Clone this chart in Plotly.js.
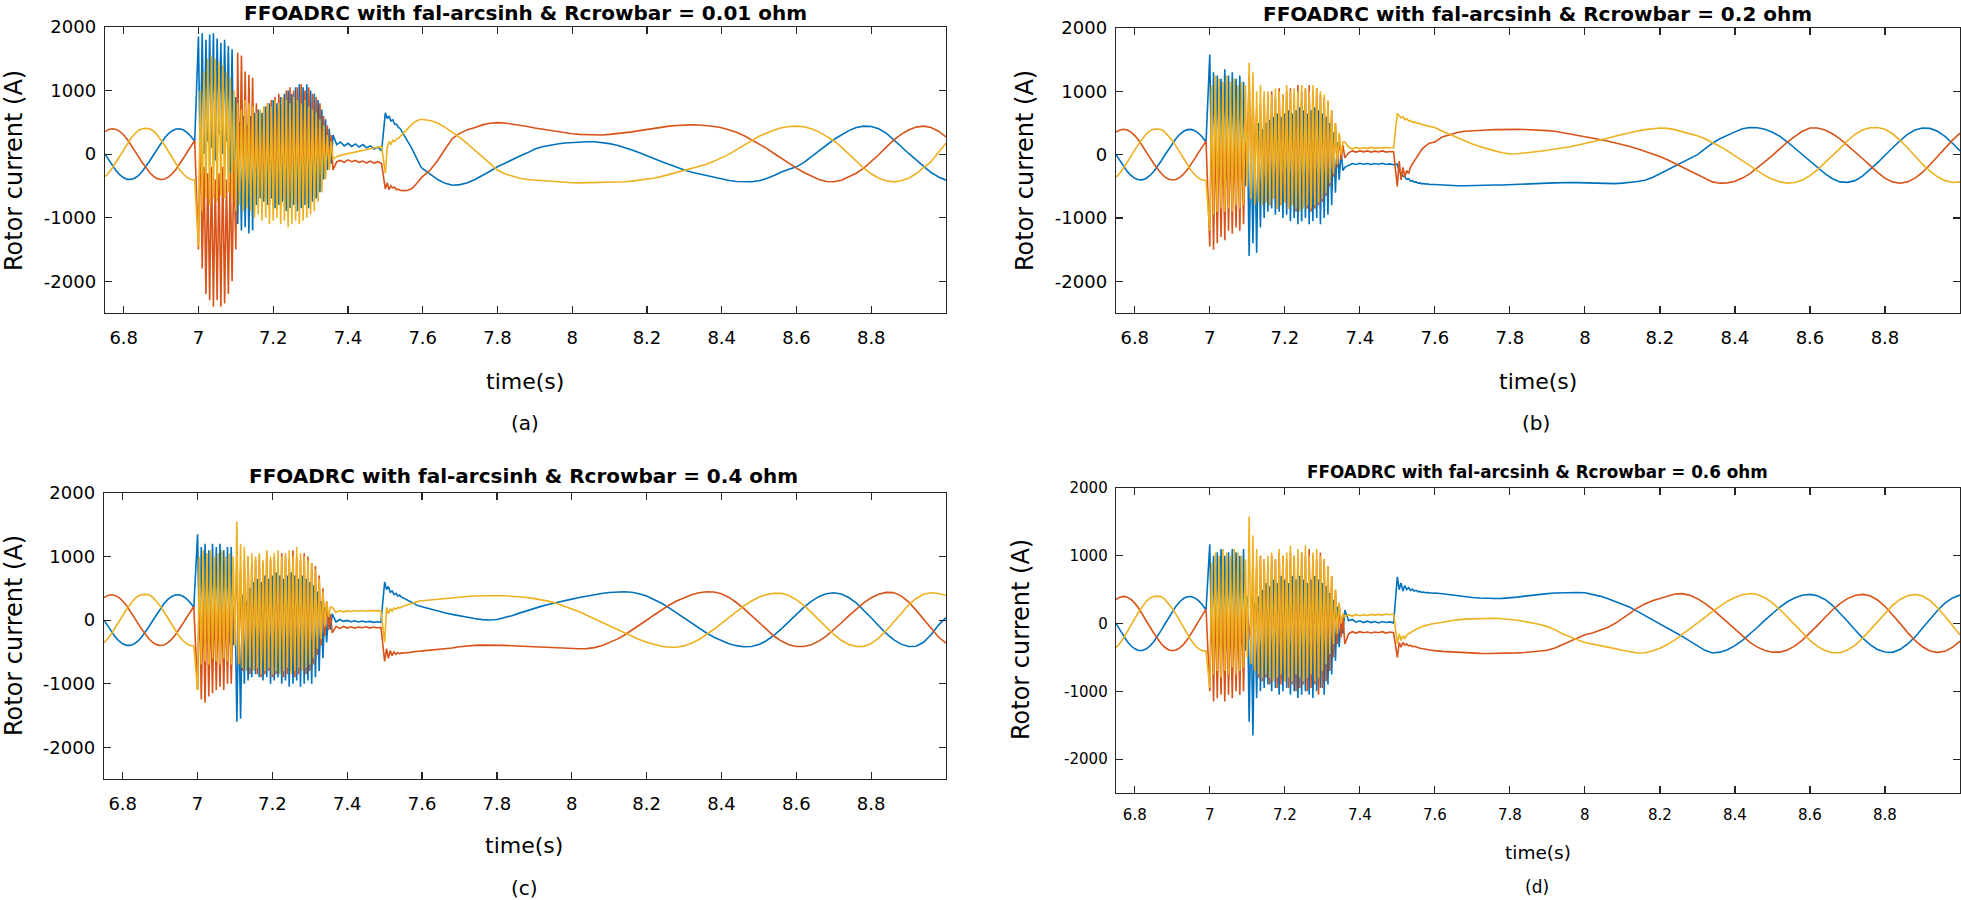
<!DOCTYPE html>
<html><head><meta charset="utf-8">
<script src="https://cdn.plot.ly/plotly-3.0.1.min.js"></script>
<style>html,body{margin:0;padding:0;background:#fff}#chart{width:1961px;height:900px}</style>
</head><body><div id="chart"></div>
<script>
// ---------- time base (s) ----------
const tPre = [6.75,6.76,6.77,6.78,6.79,6.8,6.81,6.82,6.83,6.84,6.85,6.86,6.87,6.88,6.89,6.9,6.91,6.92,6.93,6.94,6.95,6.96,6.97,6.98,6.99];
const tFault = [7,7.005,7.01,7.015,7.02,7.025,7.03,7.035,7.04,7.045,7.05,7.055,7.06,7.065,7.07,7.075,7.08,7.085,7.09,7.095,
7.1,7.105,7.11,7.115,7.12,7.125,7.13,7.135,7.14,7.145,7.15,7.155,7.16,7.165,7.17,7.175,7.18,7.185,7.19,7.195,
7.2,7.205,7.21,7.215,7.22,7.225,7.23,7.235,7.24,7.245,7.25,7.255,7.26,7.265,7.27,7.275,7.28,7.285,7.29,7.295,
7.3,7.305,7.31,7.315,7.32,7.325,7.33,7.335,7.34,7.345,7.35,7.355];
const tCalm = [7.36,7.37,7.38,7.39,7.4,7.41,7.42,7.43,7.44,7.45,7.46,7.47,7.48,7.49];
const tEvent = [7.5,7.505,7.51,7.515,7.52,7.525,7.53,7.535,7.54,7.545,7.55,7.555,7.56,7.565,7.57,7.575,7.58,7.585,7.59,7.595];
const tPost = [7.6,7.62,7.64,7.66,7.68,7.7,7.72,7.74,7.76,7.78,7.8,7.82,7.84,7.86,7.88,7.9,7.92,7.94,7.96,7.98,
8,8.02,8.04,8.06,8.08,8.1,8.12,8.14,8.16,8.18,8.2,8.22,8.24,8.26,8.28,8.3,8.32,8.34,8.36,8.38,
8.4,8.42,8.44,8.46,8.48,8.5,8.52,8.54,8.56,8.58,8.6,8.62,8.64,8.66,8.68,8.7,8.72,8.74,8.76,8.78,
8.8,8.82,8.84,8.86,8.88,8.9,8.92,8.94,8.96,8.98,9];

// ---------- pre-fault rotor currents (A), same in all four cases ----------
const preBlue = [0,-95,-185,-264,-328,-373,-397,-398,-376,-333,-271,-193,-104,-10,86,176,256,322,369,395,399,379,338,278,201];
const preOrange = [355,389,400,389,355,301,230,145,53,-43,-136,-222,-294,-350,-386,-400,-391,-359,-307,-237,-154,-62,33,127,214];
const preYellow = [-355,-294,-215,-125,-27,72,167,253,323,376,400,405,398,360,300,224,135,37,-62,-158,-245,-317,-371,-400,-405];

// ---------- (a) Rcrowbar = 0.01 ohm : fault | calm | event | post ----------
const aBlue = [
1850,-200,1900,0,1800,200,1880,100,1900,-100,1820,300,1750,0,1800,200,1700,-300,1650,-600,
900,-1100,500,-1200,600,-1150,450,-1250,600,-1200,
650,-800,700,-700,650,-750,750,-800,800,-700,850,-850,800,-800,900,-750,950,-900,1000,-850,
950,-800,1050,-900,1100,-850,1050,-800,1100,-850,1000,-750,950,-700,850,-600,700,-400,550,-250,400,-150,
300,150,190,130,170,120,160,110,150,100,130,80,110,50,
650,560,600,520,540,470,470,420,400,350,320,260,220,150,100,40,-20,-100,-150,-200,
-230,-320,-400,-460,-490,-480,-450,-400,-340,-270,-200,-140,-80,-30,20,80,115,140,160,175,185,
190,195,195,185,165,140,105,65,20,-30,-75,-120,-165,-210,-250,-285,-310,-340,-370,-395,
-415,-430,-437,-435,-420,-385,-335,-280,-240,-200,-130,-40,50,150,230,300,370,420,440,435,
400,330,230,120,10,-90,-200,-290,-360,-410];
const aOrange = [
-1500,500,-1800,-200,-2200,-300,-2300,-200,-2400,-400,-2300,-300,-2400,-200,-2350,-400,-2200,-300,-2000,-100,
-1500,1600,-600,1550,-500,1300,-600,1250,-550,1200,
-700,800,-650,650,-750,750,-700,800,-800,850,-700,900,-750,950,-800,900,-700,1000,-850,1050,
-800,1000,-750,1050,-800,1100,-700,1000,-750,1050,-650,950,-600,900,-500,800,-350,600,-250,450,-200,300,
-250,-120,-100,-130,-90,-120,-100,-130,-110,-140,-110,-140,-120,-150,
-550,-450,-560,-500,-530,-520,-560,-550,-570,-575,-580,-575,-570,-560,-545,-520,-490,-460,-420,-380,
-350,-250,-100,80,250,330,385,420,460,485,495,490,475,455,435,410,390,370,350,330,320,
310,305,300,300,310,320,335,350,370,390,410,425,440,450,458,460,458,450,435,415,
385,345,290,225,160,90,10,-70,-150,-220,-290,-350,-400,-430,-435,-410,-360,-300,-220,-120,
-10,110,220,310,380,425,440,420,360,270];
const aYellow = [
-1450,1000,-900,1300,-700,1500,-800,1550,-700,1500,-750,1450,-650,1400,-700,1300,-600,1200,-700,1000,
-900,800,-800,700,-900,850,-850,800,-900,750,
-1000,650,-950,700,-1050,750,-1000,800,-1100,750,-1050,850,-1000,800,-1100,900,-1050,850,-1150,800,
-1100,900,-1050,850,-1100,800,-1050,850,-1000,750,-950,700,-900,650,-750,550,-600,450,-400,300,-250,200,
-80,-40,-20,0,10,20,35,45,60,70,85,95,110,120,
-300,100,200,150,220,200,240,250,280,310,340,380,410,440,470,490,510,530,540,545,
545,530,490,420,340,260,160,60,-40,-150,-250,-310,-350,-380,-400,-410,-420,-430,-440,-445,-450,
-452,-450,-450,-448,-445,-440,-435,-425,-410,-395,-375,-350,-320,-290,-260,-230,-200,-160,-110,-60,
0,70,140,220,280,330,380,415,435,440,430,400,350,280,210,110,0,-110,-220,-310,
-380,-420,-437,-420,-380,-310,-220,-120,30,170];

// ---------- (b) Rcrowbar = 0.2 ohm ----------
const bBlue = [
1580,-300,1300,-200,1250,-100,1200,-250,1350,-150,1250,-300,1300,-200,1200,-250,1250,-300,1150,-500,
400,-1600,300,-1400,200,-1550,500,-1150,400,-1000,
500,-900,550,-850,600,-950,650,-900,600,-1000,650,-950,700,-1050,650,-1000,700,-1100,750,-1050,
700,-1000,650,-1100,700,-1050,750,-1000,700,-1100,650,-1000,600,-950,500,-800,350,-600,200,-400,50,-250,
-200,-170,-140,-155,-135,-150,-140,-155,-140,-150,-135,-155,-145,-160,
-150,-260,-290,-340,-350,-390,-380,-415,-410,-435,-430,-450,-445,-460,-455,-465,-460,-470,-465,-470,
-470,-480,-485,-490,-490,-490,-488,-485,-480,-478,-475,-470,-465,-460,-455,-450,-445,-440,-440,-442,-445,
-450,-455,-460,-458,-450,-440,-425,-405,-360,-300,-240,-180,-120,-60,0,90,180,250,310,360,
410,430,425,400,355,290,200,100,0,-100,-200,-300,-380,-430,-437,-410,-340,-240,-130,-10,
110,220,320,390,420,415,370,290,180,60];
const bOrange = [
-1450,600,-1500,400,-1400,500,-1300,300,-1350,400,-1200,350,-1250,300,-1150,400,-1200,300,-1100,200,
0,1250,-300,900,-200,700,-600,800,-700,900,
-750,950,-800,1000,-700,900,-850,1050,-800,950,-750,1000,-850,1050,-800,950,-900,1100,-850,1000,
-800,1050,-850,1100,-900,1000,-850,1050,-800,950,-750,900,-650,850,-500,700,-350,500,-200,300,-80,150,
-50,30,60,40,60,45,60,40,55,45,60,40,50,45,
-500,-100,-400,-200,-350,-250,-300,-200,-150,-100,-50,0,40,80,110,140,160,180,190,195,
200,280,320,350,370,380,385,390,395,400,400,400,398,395,390,380,370,350,330,310,290,
265,240,215,190,160,130,95,55,15,-30,-80,-140,-200,-260,-320,-380,-430,-450,-445,-420,
-370,-300,-210,-110,-10,100,200,290,370,420,420,390,330,250,150,50,-60,-170,-280,-370,
-430,-450,-430,-370,-280,-160,-30,100,230,340];
const bYellow = [
-1200,1100,-950,1250,-900,1200,-850,1150,-900,1250,-850,1150,-900,1200,-800,1100,-850,1150,-800,1100,
-500,1450,-700,1300,-800,1000,-750,1100,-800,1000,
-750,1000,-800,950,-700,1050,-850,1000,-800,950,-750,1100,-850,1000,-800,1050,-850,1000,-900,1100,
-850,1050,-800,1000,-850,1100,-800,1050,-750,1000,-700,950,-600,850,-450,700,-300,500,-150,350,0,200,
200,120,90,110,95,110,100,115,100,110,105,115,105,110,
650,620,580,600,550,570,530,540,510,520,500,500,485,480,470,460,455,445,440,435,
430,370,320,260,220,170,130,90,60,30,10,15,25,40,55,70,85,100,125,150,175,
200,230,260,290,320,350,375,395,410,420,415,395,360,330,300,250,195,130,60,-20,
-100,-180,-260,-330,-390,-430,-450,-440,-400,-330,-240,-130,-20,100,220,320,390,425,430,400,
330,230,110,-20,-150,-260,-350,-410,-440,-430];

// ---------- (c) Rcrowbar = 0.4 ohm ----------
const cBlue = [
1350,-300,1150,-200,1200,-350,1100,-250,1200,-300,1150,-200,1200,-300,1100,-250,1150,-350,1150,-400,
300,-1600,200,-1550,400,-1000,300,-950,500,-900,
600,-850,650,-900,600,-950,700,-900,650,-1000,700,-950,750,-900,700,-1000,650,-950,700,-1050,
750,-1000,700,-950,650,-1050,700,-1000,650,-950,600,-1000,550,-900,450,-800,300,-600,200,-350,100,-150,
100,-30,10,-20,-5,-25,-10,-30,-15,-30,-20,-35,-25,-35,
600,480,530,440,460,400,420,380,395,360,350,330,320,300,290,270,255,240,225,215,
210,180,145,115,90,65,45,25,8,2,10,35,70,110,150,185,220,250,280,305,330,
355,380,400,420,435,445,447,439,416,378,327,265,193,115,34,-48,-128,-203,-270,-327,
-371,-402,-418,-416,-385,-325,-240,-137,-24,92,201,295,369,415,430,411,356,270,160,37,
-89,-208,-307,-378,-415,-412,-348,-231,-78,40];
const cOrange = [
-1100,500,-1250,300,-1300,400,-1200,250,-1150,350,-1100,300,-1050,250,-1100,350,-1000,300,-1000,200,
150,900,-700,800,-800,950,-750,1000,-850,900,
-800,950,-850,1000,-900,900,-850,1050,-800,950,-900,1000,-850,900,-800,1050,-900,1000,-850,950,
-800,1100,-900,1000,-850,950,-800,1050,-850,1000,-800,900,-700,850,-550,700,-400,500,-250,300,-150,100,
-200,-100,-130,-100,-125,-105,-125,-110,-120,-105,-125,-110,-120,-115,
-650,-450,-600,-480,-560,-500,-540,-510,-530,-515,-520,-510,-515,-505,-505,-500,-500,-495,-490,-488,
-485,-478,-470,-455,-440,-420,-405,-398,-394,-393,-395,-398,-403,-408,-414,-420,-427,-434,-440,-446,-450,
-450,-448,-433,-403,-359,-303,-238,-163,-84,-2,81,160,235,300,356,400,430,445,443,414,
357,277,180,70,-43,-152,-250,-330,-387,-416,-416,-387,-331,-252,-155,-46,66,175,272,351,
407,436,433,382,286,157,10,-137,-266,-362];
const cYellow = [
-1100,1000,-700,1100,-650,1050,-700,1100,-600,1000,-650,1050,-700,1100,-600,1000,-650,1050,-700,1000,
-400,1550,-700,1200,-750,1150,-800,1000,-750,1050,
-800,1000,-750,1050,-850,950,-800,1100,-750,1000,-850,1050,-800,1100,-850,1000,-800,1050,-750,1100,
-850,1000,-800,1150,-750,1050,-800,1000,-750,950,-700,900,-600,800,-450,650,-300,450,-100,300,50,200,
200,120,150,130,145,135,150,140,150,140,150,145,150,145,
-350,200,100,180,140,190,170,200,190,210,220,230,240,250,260,270,280,290,300,305,
305,318,330,342,352,362,372,380,386,390,388,383,377,368,355,338,318,295,262,222,180,
130,75,20,-35,-90,-145,-200,-255,-305,-350,-385,-412,-428,-428,-406,-365,-305,-230,-144,-50,
45,139,225,300,360,401,422,421,387,322,231,122,3,-117,-226,-317,-382,-416,-414,-369,
-283,-166,-30,109,237,340,407,430,420,390];

// ---------- (d) Rcrowbar = 0.6 ohm ----------
const dBlue = [
1170,-300,1000,-250,1050,-200,1100,-350,1000,-300,1050,-250,1100,-300,1050,-200,1000,-300,1100,-400,
400,-1450,200,-1650,300,-1100,400,-1000,500,-950,
600,-900,550,-1000,650,-950,600,-1050,700,-1000,650,-950,600,-1050,700,-1000,650,-1100,700,-1050,
650,-1000,600,-1050,650,-1100,700,-1000,650,-950,600,-1050,550,-900,450,-750,350,-550,250,-350,100,-150,
200,40,60,20,40,15,35,15,30,10,30,15,25,10,
690,500,600,480,560,500,530,490,510,480,490,470,475,460,465,455,458,450,452,448,
450,440,425,410,395,385,378,372,370,372,378,390,405,420,432,442,450,455,458,458,455,
435,405,370,330,290,240,180,120,60,0,-60,-125,-190,-260,-330,-395,-435,-422,-385,-326,
-248,-156,-55,50,151,243,322,380,418,430,411,356,269,159,35,-92,-211,-311,-383,-420,
-425,-383,-305,-197,-69,64,192,300,378,420];
const dOrange = [
-1000,400,-1150,300,-1100,350,-1050,250,-1150,300,-1050,250,-1100,300,-1000,200,-1050,300,-1000,250,
150,-100,-300,900,-700,850,-800,1000,-850,950,
-800,900,-900,1000,-850,950,-950,1050,-900,1000,-850,950,-950,1050,-900,1000,-1000,950,-950,1050,
-900,1000,-1000,1100,-950,1000,-900,950,-1050,1050,-950,950,-850,850,-700,700,-500,500,-300,300,-200,100,
-300,-150,-120,-140,-120,-135,-125,-140,-125,-135,-120,-140,-125,-135,
-500,-280,-350,-280,-320,-300,-330,-320,-340,-335,-350,-355,-365,-370,-378,-382,-388,-392,-395,-398,
-400,-410,-418,-425,-432,-436,-440,-442,-442,-440,-436,-432,-426,-418,-408,-395,-360,-310,-255,-205,-165,
-138,-100,-60,0,70,150,230,290,335,365,400,435,441,416,367,298,212,113,10,-94,
-193,-279,-348,-397,-422,-421,-390,-329,-244,-141,-27,90,200,294,368,415,430,409,348,254,
135,3,-130,-249,-343,-404,-425,-410,-350,-260];
const dYellow = [
-950,900,-750,1050,-700,1000,-800,1100,-700,1050,-750,1000,-650,1100,-750,1050,-700,1000,-650,950,
-500,1580,-600,1300,-700,1100,-750,1000,-800,950,
-750,1000,-800,1050,-850,950,-800,1100,-750,1000,-850,1050,-800,1150,-850,1000,-750,1100,-800,1050,
-850,1150,-800,1000,-750,1050,-850,1100,-800,1000,-700,950,-600,850,-450,700,-300,500,-150,300,0,150,
100,130,110,135,115,130,120,135,125,135,125,140,130,140,
-300,-150,-250,-180,-220,-170,-150,-130,-110,-100,-85,-70,-60,-48,-38,-28,-20,-12,-6,-2,
0,20,40,55,65,70,75,78,78,72,62,48,30,10,-15,-45,-90,-150,-200,-240,-280,
-300,-320,-345,-370,-395,-420,-435,-430,-405,-365,-310,-240,-160,-80,0,90,180,260,330,385,
425,444,428,380,304,207,94,-25,-142,-249,-337,-398,-431,-430,-392,-320,-219,-99,30,155,
267,355,411,430,407,340,236,107,-33,-169];

// ---------- labels ----------
const titles = ['FFOADRC with fal-arcsinh &amp; Rcrowbar = 0.01 ohm','FFOADRC with fal-arcsinh &amp; Rcrowbar = 0.2 ohm',
                'FFOADRC with fal-arcsinh &amp; Rcrowbar = 0.4 ohm','FFOADRC with fal-arcsinh &amp; Rcrowbar = 0.6 ohm'];
const subLabels = ['(a)','(b)','(c)','(d)'];
const xTickVals = [6.8,7,7.2,7.4,7.6,7.8,8,8.2,8.4,8.6,8.8];
const xTickText = ['6.8','7','7.2','7.4','7.6','7.8','8','8.2','8.4','8.6','8.8'];
const yTickVals = [-2000,-1000,0,1000,2000];
const yTickText = ['-2000','-1000','0','1000','2000'];

// ---------- build ----------
const W = 1961, H = 900;
const F = 'DejaVu Sans, Arial, sans-serif';
const AX = '#262626';
const colors = ['#0072BD','#D95319','#EDB120'];
const t = tPre.concat(tFault, tCalm, tEvent, tPost);

const panels = [
  {s:[aBlue,aOrange,aYellow], px:[105,946], py:[27,313], title:[525,13,20], ylab:[14,171], xlab:[525,382,22], sub:[525,423,20], tick:18},
  {s:[bBlue,bOrange,bYellow], px:[1116,1960], py:[28,313], title:[1537,13.5,20], ylab:[1025,171], xlab:[1538,382,22], sub:[1536,423,20], tick:18},
  {s:[cBlue,cOrange,cYellow], px:[104,946], py:[493,779], title:[523,476,20], ylab:[14,636], xlab:[524,845,22], sub:[524,888,20], tick:18},
  {s:[dBlue,dOrange,dYellow], px:[1116,1960], py:[488,793], title:[1537,472,16.8], ylab:[1021,640], xlab:[1538,852,18.5], sub:[1537,887,17], tick:15}
];
const pres = [preBlue, preOrange, preYellow];

const data = [], annotations = [];
const layout = {width:W, height:H, margin:{l:0,r:0,t:0,b:0}, paper_bgcolor:'#fff', plot_bgcolor:'#fff', showlegend:false};

panels.forEach((p, k) => {
  const xa = k === 0 ? 'x' : 'x' + (k+1), ya = k === 0 ? 'y' : 'y' + (k+1);
  p.s.forEach((arr, j) => {
    const y = pres[j].concat(arr);
    if (y.length !== t.length) console.warn('length mismatch', k, j, y.length, t.length);
    data.push({type:'scatter', mode:'lines', x:t, y:y, xaxis:xa, yaxis:ya,
      line:{color:colors[j], width:1.6}, hoverinfo:'skip'});
  });
  const common = {ticks:'inside', ticklen:7, tickwidth:1.2, tickcolor:AX, showline:true, linecolor:AX, linewidth:1.3,
    mirror:'ticks', showgrid:false, zeroline:false, tickfont:{family:F, size:p.tick, color:'#000'}};
  layout[k === 0 ? 'xaxis' : 'xaxis' + (k+1)] = Object.assign({}, common, {
    domain:[p.px[0]/W, p.px[1]/W], anchor:ya, range:[6.75, 9.0], tickmode:'array',
    tickvals:xTickVals, ticktext:xTickText, ticklabelstandoff:8});
  layout[k === 0 ? 'yaxis' : 'yaxis' + (k+1)] = Object.assign({}, common, {
    domain:[1 - p.py[1]/H, 1 - p.py[0]/H], anchor:xa, range:[-2500, 2000], tickmode:'array',
    tickvals:yTickVals, ticktext:yTickText, ticklabelstandoff:4});
  annotations.push({text:'<b>' + titles[k] + '</b>', x:p.title[0]/W, y:1 - p.title[1]/H, xref:'paper', yref:'paper',
    showarrow:false, xanchor:'center', yanchor:'middle', font:{family:F, size:p.title[2], color:'#000'}});
  annotations.push({text:'Rotor current (A)', textangle:-90, x:p.ylab[0]/W, y:1 - p.ylab[1]/H, xref:'paper', yref:'paper',
    showarrow:false, xanchor:'center', yanchor:'middle', font:{family:F, size:24, color:'#000'}});
  annotations.push({text:'time(s)', x:p.xlab[0]/W, y:1 - p.xlab[1]/H, xref:'paper', yref:'paper',
    showarrow:false, xanchor:'center', yanchor:'middle', font:{family:F, size:p.xlab[2], color:'#000'}});
  annotations.push({text:subLabels[k], x:p.sub[0]/W, y:1 - p.sub[1]/H, xref:'paper', yref:'paper',
    showarrow:false, xanchor:'center', yanchor:'middle', font:{family:F, size:p.sub[2], color:'#000'}});
});
layout.annotations = annotations;
Plotly.newPlot('chart', data, layout, {displayModeBar:false, staticPlot:true});
</script>
</body></html>
